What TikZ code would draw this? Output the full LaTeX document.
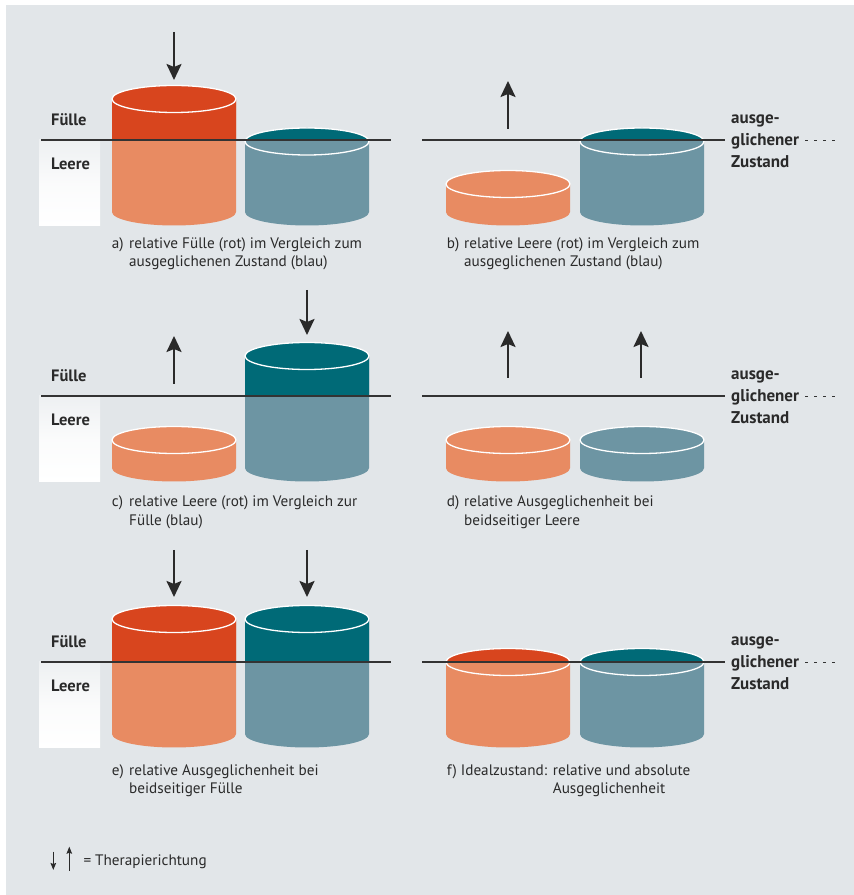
\documentclass[tikz,border=0pt]{standalone}
\usepackage{fontspec}
\setmainfont{PT Sans}
\usetikzlibrary{arrows.meta}

\definecolor{hintergrund}{HTML}{E2E6E9}
\definecolor{rotdunkel}{HTML}{D8451E}
\definecolor{rothell}{HTML}{E88B62}
\definecolor{blaudunkel}{HTML}{006A77}
\definecolor{blauhell}{HTML}{6D95A3}
\definecolor{textgrau}{HTML}{2A2A2A}
\definecolor{liniengrau}{HTML}{333333}

% Tonne: x-Mitte, Oberkante relativ zur Linie, dunkle Farbe, helle Farbe
\newcommand{\tonne}[4]{%
  \fill[#4] (#1-62,#2) -- (#1-62,-72) arc[start angle=180,end angle=360,x radius=62,y radius=13.5]
    -- (#1+62,#2) arc[start angle=0,end angle=180,x radius=62,y radius=13.5] -- cycle;
  \begin{scope}
    \clip (#1-70,0) rectangle (#1+70,130);
    \fill[#3] (#1-62,#2) -- (#1-62,-72) arc[start angle=180,end angle=360,x radius=62,y radius=13.5]
      -- (#1+62,#2) arc[start angle=0,end angle=180,x radius=62,y radius=13.5] -- cycle;
  \end{scope}
  \draw[white, line width=1.3pt] (#1,#2) ellipse[x radius=62, y radius=13.5];
}

\begin{document}
\begin{tikzpicture}[x=1pt, y=1pt,
    pfeil/.style={draw=textgrau, line width=2.3pt, -{Stealth[length=16pt, width=15pt, inset=3pt]}},
    kleinpfeil/.style={draw=textgrau, line width=1.1pt, -{Stealth[length=7pt, width=5.5pt, inset=1pt]}},
    niveau/.style={draw=liniengrau, line width=1.1pt},
    strichel/.style={draw=liniengrau, line width=0.8pt, dash pattern=on 3pt off 6pt},
    beschriftung/.style={anchor=base west, inner sep=0pt, text=textgrau, font=\fontsize{15.2}{18.4}\selectfont},
    ebene/.style={anchor=base west, inner sep=0pt, text=textgrau, font=\bfseries\fontsize{16.5}{22}\selectfont}]
    \useasboundingbox (0,0) rectangle (854,895);
    \fill[white] (0,0) rectangle (854,895);
    \fill[hintergrund] (6,0) rectangle (854,890);

    % gemeinsame Teile der drei Zeilen
    \foreach \y/\n in {755/1, 499/2, 233/3} {
        \begin{scope}[shift={(0,\y)}]
            \shade[top color=hintergrund!60!white, bottom color=white, middle color=white!85!hintergrund] (39,0) rectangle (100,-86);
            \node[ebene] (fuelle\n) at (51,14) {Fülle};
            \node[ebene] (leere\n) at (51,-30) {Leere};
            \node[ebene, anchor=west, align=left, font=\bfseries\fontsize{17}{22}\selectfont] (zustand\n) at (731,-1) {ausge-\\glichener\\Zustand};
            \draw[strichel] (805,0) -- (838,0);
        \end{scope}
    }

    % Zeile 1: a) und b)
    \begin{scope}[shift={(0,755)}]
        \tonne{174}{41}{rotdunkel}{rothell}
        \tonne{307}{-1.5}{blaudunkel}{blauhell}
        \tonne{508}{-44}{rotdunkel}{rothell}
        \tonne{642}{-1.5}{blaudunkel}{blauhell}
        \draw[niveau] (41,0) -- (391,0);
        \draw[niveau] (422,0) -- (725,0);
        \draw[pfeil] (174,108) -- (174,60);
        \draw[pfeil] (508,11) -- (508,59);
        \node[beschriftung] (a) at (111.7,-108.3) {a)};
        \node[beschriftung, align=left] (atext) at (129,-126.7) {relative Fülle (rot) im Vergleich zum\\ausgeglichenen Zustand (blau)};
        \node[beschriftung] (b) at (446.7,-108.3) {b)};
        \node[beschriftung, align=left] (btext) at (464,-126.7) {relative Leere (rot) im Vergleich zum\\ausgeglichenen Zustand (blau)};
    \end{scope}

    % Zeile 2: c) und d)
    \begin{scope}[shift={(0,499)}]
        \tonne{174}{-44}{rotdunkel}{rothell}
        \tonne{307}{40}{blaudunkel}{blauhell}
        \tonne{508}{-44}{rotdunkel}{rothell}
        \tonne{642}{-44}{blaudunkel}{blauhell}
        \draw[niveau] (41,0) -- (391,0);
        \draw[niveau] (422,0) -- (725,0);
        \draw[pfeil] (174,12) -- (174,60);
        \draw[pfeil] (307,106) -- (307,61);
        \draw[pfeil] (508,18) -- (508,65);
        \draw[pfeil] (641,18) -- (641,65);
        \node[beschriftung] (c) at (111.7,-110.7) {c)};
        \node[beschriftung, align=left] (ctext) at (129,-129.1) {relative Leere (rot) im Vergleich zur\\Fülle (blau)};
        \node[beschriftung] (d) at (446.7,-110.7) {d)};
        \node[beschriftung, align=left] (dtext) at (464,-129.1) {relative Ausgeglichenheit bei\\beidseitiger Leere};
    \end{scope}

    % Zeile 3: e) und f)
    \begin{scope}[shift={(0,233)}]
        \tonne{174}{43}{rotdunkel}{rothell}
        \tonne{307}{43}{blaudunkel}{blauhell}
        \tonne{508}{0}{rotdunkel}{rothell}
        \tonne{642}{0}{blaudunkel}{blauhell}
        \draw[niveau] (41,0) -- (391,0);
        \draw[niveau] (422,0) -- (725,0);
        \draw[pfeil] (174,112) -- (174,65);
        \draw[pfeil] (307,112) -- (307,65);
        \node[beschriftung] (e) at (111.7,-113.3) {e)};
        \node[beschriftung, align=left] (etext) at (129,-131.7) {relative Ausgeglichenheit bei\\beidseitiger Fülle};
        \node[beschriftung] (f) at (446.7,-113.3) {f)};
        \node[beschriftung] (ideal) at (460.7,-113.3) {Idealzustand:};
        \node[beschriftung, align=left] (ftext) at (552.7,-131.7) {relative und absolute\\Ausgeglichenheit};
    \end{scope}

    % Legende
    \draw[kleinpfeil] (53.3,43.3) -- (53.3,25);
    \draw[kleinpfeil] (69.3,24.3) -- (69.3,48.3);
    \node[beschriftung] (legende) at (83.3,30) {= Therapierichtung};
\end{tikzpicture}
\end{document}
